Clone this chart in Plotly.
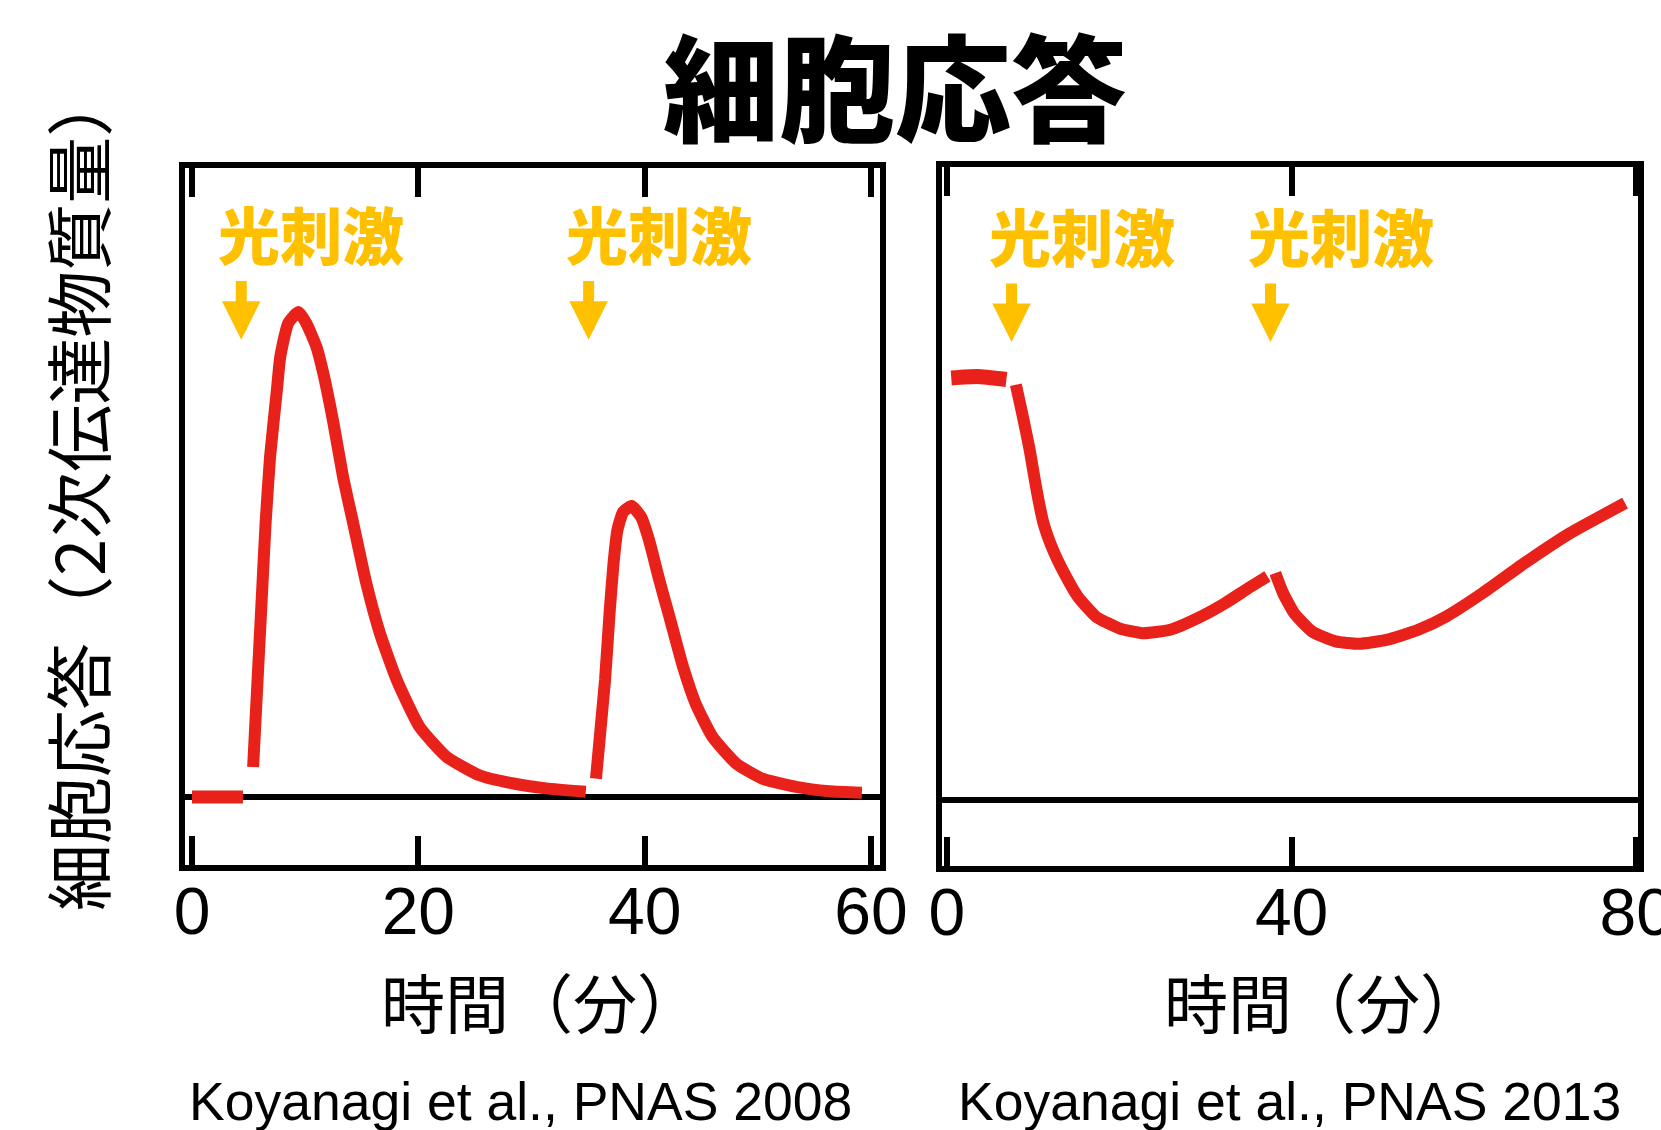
import plotly.graph_objects as go

# ---------------- data (time in minutes, response in arbitrary units) ----------------
# Left panel: Koyanagi et al., PNAS 2008
left_ticks = [0, 20, 40, 60]
left_pre_t = [0.0, 4.5]
left_pre_y = [0.0, 0.0]
left_r1_t = [5.4, 6.2, 6.5, 6.9, 7.5, 7.8, 8.5, 9.4, 10.1, 11.0, 11.6, 12.5, 13.35,
             14.25, 15.4, 16.6, 18.1, 20.1, 22.5, 25.4, 28.4, 31.3, 34.8]
left_r1_y = [6.2, 42.7, 56.4, 70.2, 83.9, 90.8, 97.7, 100.0, 97.7, 92.8, 87.4, 77.1, 66.0,
             56.4, 44.1, 33.8, 24.1, 14.5, 8.3, 4.5, 2.8, 1.8, 1.1]
left_r2_t = [35.7, 36.5, 36.9, 37.25, 37.6, 38.1, 38.85, 39.7, 40.4, 41.3, 42.2, 43.4,
             44.5, 46.0, 48.1, 50.4, 53.4, 56.3, 59.2]
left_r2_y = [3.8, 24.1, 37.9, 48.2, 55.1, 58.8, 60.0, 57.7, 52.9, 44.7, 37.1, 26.8,
             19.3, 12.4, 6.9, 3.8, 2.1, 1.2, 0.9]
left_stim_t = [4.35, 35.05]

# Right panel: Koyanagi et al., PNAS 2013
right_ticks = [0, 40, 80]
right_pre_t = [0.5, 3.5, 6.9]
right_pre_y = [86.9, 87.2, 86.6]
right_r1_t = [8.0, 8.8, 9.6, 10.4, 11.2, 12.3, 13.6, 15.2, 17.3, 20.0, 22.7, 25.9,
              29.1, 32.3, 35.0, 37.2]
right_r1_y = [85.5, 79.0, 72.1, 63.8, 57.0, 51.5, 46.7, 41.8, 37.7, 35.3, 34.3, 35.0,
              37.4, 40.5, 43.6, 46.0]
right_r2_t = [38.1, 39.0, 40.3, 42.4, 45.1, 47.8, 51.0, 54.7, 57.9, 62.2, 67.0, 72.3, 78.7]
right_r2_y = [46.7, 42.6, 38.4, 34.6, 32.6, 32.1, 32.9, 35.0, 37.7, 42.6, 48.7, 54.9, 61.1]
right_stim_t = [7.5, 37.55]

arrow_tail_y = 106.7
arrow_tip_y = 94.3
label_y = 116.3

title_text = "細胞応答"
ylabel_text = "細胞応答（2次伝達物質量）"
xlabel_text = "時間（分）"
stim_text = "光刺激"
cite_texts = ["Koyanagi et al., PNAS 2008", "Koyanagi et al., PNAS 2013"]

# ---------------- style ----------------
RED = "#E8221B"
AMBER = "#FFC000"
CJK = "Noto Sans CJK JP"
LAT = "Liberation Sans, Arial, sans-serif"
W, H = 1661, 1130

fig = go.Figure()


def add_line(t, y, xa, ya, width, smooth=True):
    line = dict(color=RED, width=width)
    if smooth:
        line.update(shape="spline", smoothing=0.5)
    fig.add_trace(go.Scatter(x=t, y=y, mode="lines", line=line, xaxis=xa, yaxis=ya,
                             hoverinfo="skip", showlegend=False))


add_line(left_pre_t, left_pre_y, "x", "y", 13, smooth=False)
add_line(left_r1_t, left_r1_y, "x", "y", 12)
add_line(left_r2_t, left_r2_y, "x", "y", 12)
add_line(right_pre_t, right_pre_y, "x2", "y2", 15)
add_line(right_r1_t, right_r1_y, "x2", "y2", 12)
add_line(right_r2_t, right_r2_y, "x2", "y2", 12)

xcommon = dict(ticks="inside", ticklen=29, tickwidth=6, tickcolor="black",
               showline=True, linewidth=6, linecolor="black", mirror="allticks",
               showgrid=False, zeroline=False, automargin=False,
               ticklabeloverflow="allow", ticklabelstandoff=-16,
               tickfont=dict(family=LAT, size=66, color="black"))
ycommon = dict(showticklabels=False, ticks="", showline=True, linewidth=6,
               linecolor="black", mirror=True, showgrid=False, automargin=False,
               zeroline=True, zerolinewidth=6, zerolinecolor="black")

fig.update_layout(
    width=W, height=H, autosize=False, margin=dict(l=0, r=0, t=0, b=0),
    paper_bgcolor="white", plot_bgcolor="white", showlegend=False,
    xaxis=dict(domain=[185 / W, 880 / W], range=[-0.62, 60.8], tickvals=left_ticks,
               anchor="y", **xcommon),
    yaxis=dict(domain=[1 - 865 / H, 1 - 168 / H], range=[-14.0, 129.7], anchor="x",
               **ycommon),
    xaxis2=dict(domain=[941.7 / W, 1638 / W], range=[-0.61, 80.2], tickvals=right_ticks,
                anchor="y2", **xcommon),
    yaxis2=dict(domain=[1 - 866 / H, 1 - 167 / H], range=[-13.7, 130.4], anchor="x2",
                **ycommon),
)

ann = []
# arrows + labels
for xr, yr, times in (("x", "y", left_stim_t), ("x2", "y2", right_stim_t)):
    for t in times:
        ann.append(dict(x=t, y=arrow_tip_y, ax=t, ay=arrow_tail_y, xref=xr, yref=yr,
                        axref=xr, ayref=yr, text="", showarrow=True, arrowhead=2,
                        arrowwidth=11, arrowsize=0.7, arrowcolor=AMBER,
                        standoff=0, startstandoff=0))
        ann.append(dict(x=t, y=label_y, xref=xr, yref=yr, xshift=70, text=stim_text,
                        showarrow=False, xanchor="center", yanchor="middle",
                        font=dict(family=CJK, size=62, color=AMBER, weight=900)))

# title
ann.append(dict(x=895 / W, y=1 - 82 / H, xref="paper", yref="paper", text=title_text,
                showarrow=False, xanchor="center", yanchor="middle",
                font=dict(family=CJK, size=116, color="black", weight=900)))
# y label
ann.append(dict(x=75 / W, y=1 - 491 / H, xref="paper", yref="paper", text=ylabel_text,
                textangle=-90, showarrow=False, xanchor="center", yanchor="middle",
                font=dict(family=CJK, size=67, color="black")))
# x labels
for xc in (541, 1324):
    ann.append(dict(x=xc / W, y=1 - 1000 / H, xref="paper", yref="paper", text=xlabel_text,
                    showarrow=False, xanchor="center", yanchor="middle",
                    font=dict(family=CJK, size=64, color="black")))
# citations
for xc, txt in zip((520.5, 1289), cite_texts):
    ann.append(dict(x=xc / W, y=1 - 1101 / H, xref="paper", yref="paper", text=txt,
                    showarrow=False, xanchor="center", yanchor="middle",
                    font=dict(family=LAT, size=53.5, color="black")))

fig.update_layout(annotations=ann)

fig.write_html(
    "out.html",
    config={"responsive": False, "displayModeBar": False},
    post_script="document.body.style.margin='0';document.body.style.overflow='hidden';",
)
